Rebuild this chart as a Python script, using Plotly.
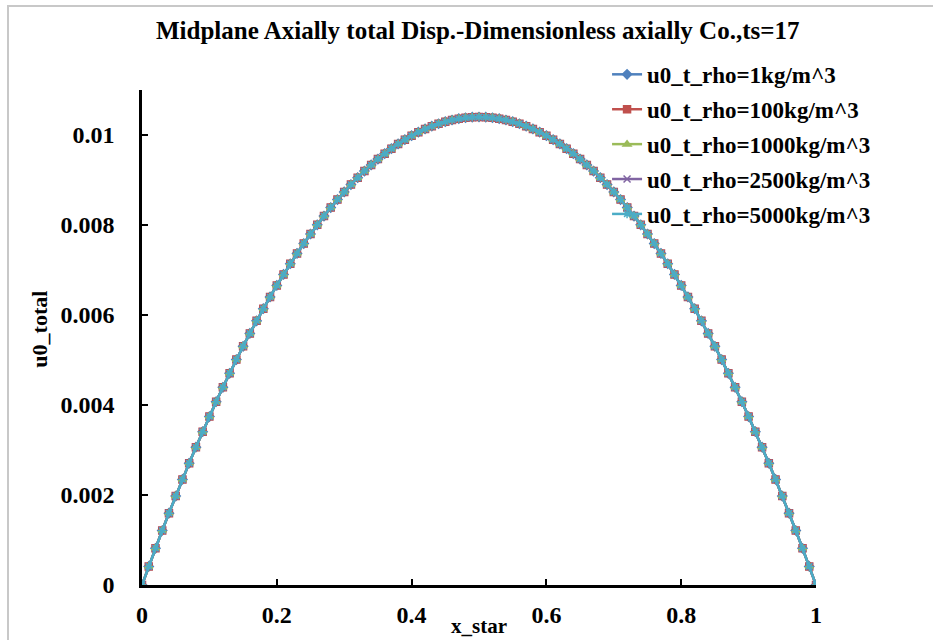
import plotly.graph_objects as go

x_star = [0.00, 0.01, 0.02, 0.03, 0.04, 0.05, 0.06, 0.07, 0.08, 0.09,
          0.10, 0.11, 0.12, 0.13, 0.14, 0.15, 0.16, 0.17, 0.18, 0.19,
          0.20, 0.21, 0.22, 0.23, 0.24, 0.25, 0.26, 0.27, 0.28, 0.29,
          0.30, 0.31, 0.32, 0.33, 0.34, 0.35, 0.36, 0.37, 0.38, 0.39,
          0.40, 0.41, 0.42, 0.43, 0.44, 0.45, 0.46, 0.47, 0.48, 0.49,
          0.50, 0.51, 0.52, 0.53, 0.54, 0.55, 0.56, 0.57, 0.58, 0.59,
          0.60, 0.61, 0.62, 0.63, 0.64, 0.65, 0.66, 0.67, 0.68, 0.69,
          0.70, 0.71, 0.72, 0.73, 0.74, 0.75, 0.76, 0.77, 0.78, 0.79,
          0.80, 0.81, 0.82, 0.83, 0.84, 0.85, 0.86, 0.87, 0.88, 0.89,
          0.90, 0.91, 0.92, 0.93, 0.94, 0.95, 0.96, 0.97, 0.98, 0.99, 1.00]

# u0_total (all five densities overlap)
u0_total = [0.0, 0.000412, 0.000815, 0.001211, 0.001597, 0.001976, 0.002346, 0.002708, 0.003062, 0.003407,
            0.003744, 0.004073, 0.004393, 0.004705, 0.005009, 0.005304, 0.005591, 0.005870, 0.006140, 0.006402,
            0.006656, 0.006901, 0.007139, 0.007367, 0.007588, 0.007800, 0.008004, 0.008199, 0.008387, 0.008565,
            0.008736, 0.008898, 0.009052, 0.009198, 0.009335, 0.009464, 0.009585, 0.009697, 0.009801, 0.009897,
            0.009984, 0.010063, 0.010134, 0.010196, 0.010250, 0.010296, 0.010333, 0.010363, 0.010383, 0.010396,
            0.010400, 0.010396, 0.010383, 0.010363, 0.010333, 0.010296, 0.010250, 0.010196, 0.010134, 0.010063,
            0.009984, 0.009897, 0.009801, 0.009697, 0.009585, 0.009464, 0.009335, 0.009198, 0.009052, 0.008898,
            0.008736, 0.008565, 0.008387, 0.008199, 0.008004, 0.007800, 0.007588, 0.007367, 0.007139, 0.006901,
            0.006656, 0.006402, 0.006140, 0.005870, 0.005591, 0.005304, 0.005009, 0.004705, 0.004393, 0.004073,
            0.003744, 0.003407, 0.003062, 0.002708, 0.002346, 0.001976, 0.001597, 0.001211, 0.000815, 0.000412, 0.0]

series_names = ["u0_t_rho=1kg/m^3", "u0_t_rho=100kg/m^3", "u0_t_rho=1000kg/m^3",
                "u0_t_rho=2500kg/m^3", "u0_t_rho=5000kg/m^3"]
series_values = [u0_total, u0_total, u0_total, u0_total, u0_total]
colors = ["#4F81BD", "#C0504D", "#9BBB59", "#8064A2", "#4BACC6"]
symbols = ["diamond", "square", "triangle-up", "x-thin", "asterisk"]

serif = "Liberation Serif"

fig = go.Figure()
for name, vals, c, s in zip(series_names, series_values, colors, symbols):
    fig.add_trace(go.Scatter(
        x=x_star, y=vals, name=name, mode="lines+markers",
        legendgroup=name,
        line=dict(color=c, width=2.5),
        marker=dict(symbol=s, size=7, color=c, line=dict(color=c, width=1.5)),
    ))

fig.update_layout(
    width=933, height=640,
    margin=dict(l=142, r=117, t=90, b=55),
    paper_bgcolor="white", plot_bgcolor="white",
    showlegend=True,
    legend=dict(x=0.69, y=1.075, xanchor="left", yanchor="top",
                font=dict(family=serif, size=23, color="black", weight="bold"),
                bgcolor="rgba(0,0,0,0)", tracegroupgap=2, itemwidth=30),
    font=dict(family=serif, color="black"),
    xaxis=dict(range=[0, 1], tickvals=[0, 0.2, 0.4, 0.6, 0.8, 1],
               ticktext=["0", "0.2", "0.4", "0.6", "0.8", "1"],
               showgrid=False, zeroline=False, showline=True,
               linecolor="black", linewidth=2.5, ticks="inside", ticklen=6,
               tickwidth=2, tickcolor="black", ticklabelstandoff=6,
               tickfont=dict(family=serif, size=24, color="black", weight="bold")),
    yaxis=dict(range=[0, 0.011], tickvals=[0, 0.002, 0.004, 0.006, 0.008, 0.01],
               ticktext=["0", "0.002", "0.004", "0.006", "0.008", "0.01"],
               showgrid=False, zeroline=False, showline=True,
               linecolor="black", linewidth=2.5, ticks="inside", ticklen=6,
               tickwidth=2, tickcolor="black", ticklabelstandoff=20,
               tickfont=dict(family=serif, size=24, color="black", weight="bold")),
    annotations=[
        dict(text="Midplane Axially total Disp.-Dimensionless axially Co.,ts=17",
             xref="paper", yref="paper", x=0.498, y=1.121, xanchor="center", yanchor="middle",
             showarrow=False, font=dict(family=serif, size=25, color="black", weight="bold")),
        dict(text="u0_total", xref="paper", yref="paper", x=-0.152, y=0.517,
             xanchor="center", yanchor="middle", textangle=-90, showarrow=False,
             font=dict(family=serif, size=22, color="black", weight="bold")),
        dict(text="x_star", xref="paper", yref="paper", x=0.50, y=-0.1111,
             xanchor="center", yanchor="bottom", showarrow=False,
             font=dict(family=serif, size=21, color="black", weight="bold")),
    ],
    shapes=[dict(type="rect", xref="paper", yref="paper",
                 x0=-0.1988, y0=-0.3, x1=1.3, y1=1.1697,
                 line=dict(color="#c8c8c8", width=2), fillcolor="rgba(0,0,0,0)", layer="below")],
)

fig.write_html("out.html")
